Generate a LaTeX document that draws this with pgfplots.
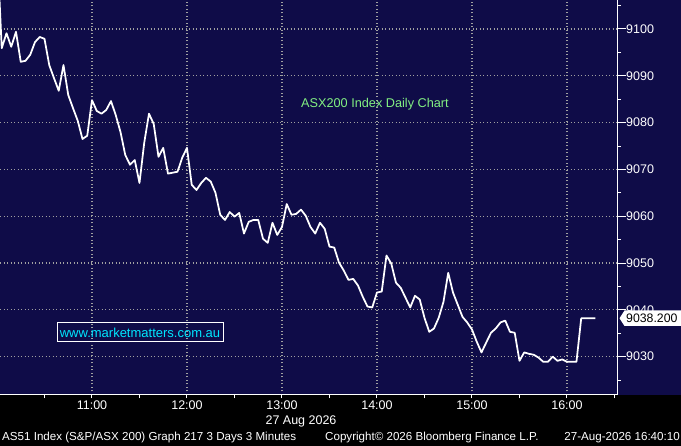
\documentclass[border=0pt]{standalone}
\usepackage{pgfplots}
\pgfplotsset{compat=1.18}
\usepackage{fontspec}
\setmainfont{Liberation Sans}
\definecolor{bgnavy}{RGB}{15,12,72}
\definecolor{gridgray}{RGB}{160,160,160}
\definecolor{titlegreen}{RGB}{130,240,130}
\definecolor{webcyan}{RGB}{0,230,255}
\newcommand{\tickfont}{\fontsize{12.5}{14}\selectfont}
\begin{document}
\begin{tikzpicture}[x=1pt,y=1pt]
\useasboundingbox (0,0) rectangle (681,446);
\fill[black] (0,0) rectangle (681,446);
\fill[bgnavy] (0,51) rectangle (681,446);
\begin{axis}[
  at={(0pt,51pt)}, anchor=south west,
  width=617pt, height=395pt, scale only axis,
  xmin=1.9, xmax=391.6, ymin=9021.8, ymax=9106.2,
  axis x line*=bottom, axis y line*=right,
  axis line style={white, line width=1pt, -},
  xtick={60,120,180,240,300,360},
  xticklabels={11:00,12:00,13:00,14:00,15:00,16:00},
  minor xtick={30,60,...,390},
  ytick={9030,9040,...,9100},
  minor ytick={9025,9035,...,9105},
  tick align=outside,
  major tick length=9pt,
  minor tick length=3.5pt,
  major x tick style={draw=none},
  tick style={white, line width=1pt},
  xmajorgrids, ymajorgrids,
  grid style={gridgray, dash pattern=on 1.3pt off 2.2pt, line width=1.1pt},
  /pgf/number format/1000 sep={},
  /pgf/number format/assume math mode=true,
  yticklabel style={font=\tickfont, text=white, inner sep=0pt, anchor=west},
  xticklabel style={font=\tickfont, text=white, inner sep=0pt, anchor=north, yshift=3pt},
]
\addplot[white, line width=1.75pt, line join=round] coordinates {
(0,9118.0) (3,9095.9) (6,9099.1) (9,9096.2) (12,9099.4) (15,9093.0) (18,9093.2) (21,9094.5)
(24,9097.2) (27,9098.3) (30,9097.9) (33,9092.3) (36,9089.5) (39,9086.8) (42,9092.3) (45,9085.9)
(48,9083.1) (51,9080.4) (54,9076.5) (57,9077.2) (60,9084.8) (63,9082.5) (66,9081.9) (69,9082.7)
(72,9084.6) (75,9081.6) (78,9078.0) (81,9073.1) (84,9071.0) (87,9072.0) (90,9067.1) (93,9075.7)
(96,9081.9) (99,9079.7) (102,9072.7) (105,9074.6) (108,9069.1) (111,9069.3) (114,9069.5) (117,9072.5)
(120,9074.6) (123,9066.7) (126,9065.6) (129,9067.1) (132,9068.2) (135,9067.4) (138,9065.0) (141,9060.3)
(144,9059.2) (147,9060.9) (150,9059.9) (153,9060.7) (156,9056.3) (159,9058.8) (162,9059.2) (165,9059.2)
(168,9055.2) (171,9054.3) (174,9058.6) (177,9056.0) (180,9057.7) (183,9062.6) (186,9060.3) (189,9060.5)
(192,9061.4) (195,9060.1) (198,9057.7) (201,9056.3) (204,9058.6) (207,9057.3) (210,9053.5) (213,9053.3)
(216,9050.1) (219,9048.4) (222,9046.4) (225,9046.6) (228,9045.2) (231,9042.8) (234,9040.7) (237,9040.5)
(240,9043.7) (243,9043.9) (246,9051.6) (249,9049.9) (252,9045.8) (255,9044.7) (258,9042.6) (261,9040.5)
(264,9043.0) (267,9042.2) (270,9038.3) (273,9035.3) (276,9036.0) (279,9038.3) (282,9041.7) (285,9047.9)
(288,9043.7) (291,9041.1) (294,9038.5) (297,9037.3) (300,9035.8) (303,9033.2) (306,9030.9) (309,9033.0)
(312,9035.1) (315,9036.0) (318,9037.3) (321,9037.7) (324,9035.3) (327,9035.1) (330,9029.1) (333,9030.9)
(336,9030.6) (339,9030.4) (342,9029.8) (345,9028.9) (348,9028.9) (351,9030.0) (354,9029.1) (357,9029.4)
(360,9028.9) (363,9028.9) (366,9028.9) (369,9038.2) (372,9038.2) (375,9038.2) (378,9038.2)
};
\end{axis}
% price box
\fill[white] (619.5,127.7) -- (624.5,135.5) -- (681,135.5) -- (681,120) -- (624.5,120) -- cycle;
\node[anchor=west, inner sep=0pt, text=black, font=\fontsize{12.3}{14}\selectfont] at (626,127.7) {9038.200};
% annotations
\node[anchor=west, inner sep=0pt, text=titlegreen, font=\fontsize{12.7}{14}\selectfont] at (301,342) {ASX200 Index Daily Chart};
\node[draw=white, line width=1pt, text=webcyan, inner sep=0pt, minimum width=166pt, minimum height=19pt, font=\fontsize{13}{15}\selectfont] at (140,113.5) {www.marketmatters.com.au};
% date label and footer
\node[inner sep=0pt, text=white, font=\tickfont] at (301,24.3) {27 Aug 2026};
\node[anchor=west, inner sep=0pt, text=white, font=\fontsize{11.6}{13}\selectfont] at (2,8) {AS51 Index (S\&P/ASX 200) Graph 217 3 Days 3 Minutes};
\node[anchor=west, inner sep=0pt, text=white, font=\fontsize{11.6}{13}\selectfont] at (325,8) {Copyright© 2026 Bloomberg Finance L.P.};
\node[anchor=east, inner sep=0pt, text=white, font=\fontsize{11.6}{13}\selectfont] at (680,8) {27-Aug-2026 16:40:10};
\end{tikzpicture}
\end{document}
